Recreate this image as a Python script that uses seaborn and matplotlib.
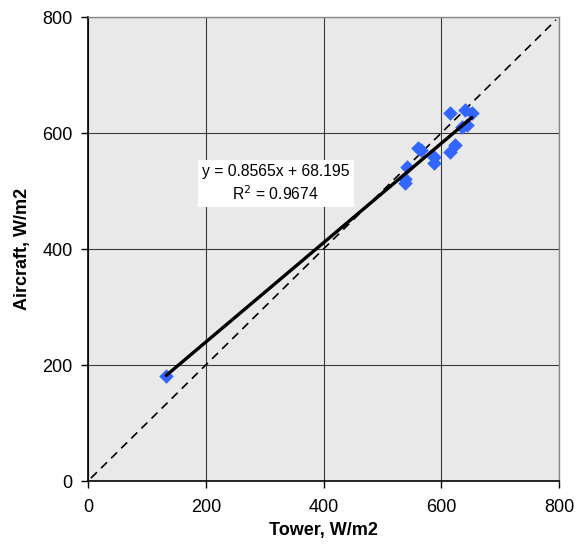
import matplotlib
matplotlib.use('Agg')
import numpy as np
import pandas as pd
from matplotlib import pyplot as plt
import seaborn as sns

# tower vs aircraft radiation, W/m2
tower = [133, 615, 640, 652, 635, 643, 623, 615, 561, 566, 587, 587, 541, 538, 538]
aircraft = [181, 634, 640, 634, 611, 614, 579, 568, 575, 571, 559, 548, 542, 513, 520]
slope = 0.8565
intercept = 68.195
r2 = 0.9674
ticks = [0, 200, 400, 600, 800]

df = pd.DataFrame({'tower': tower, 'aircraft': aircraft})

sns.set_style('white')
plt.rcParams['font.family'] = ['Liberation Sans', 'DejaVu Sans']
plt.rcParams['text.color'] = 'black'
plt.rcParams['axes.labelcolor'] = 'black'
plt.rcParams['xtick.color'] = 'black'
plt.rcParams['ytick.color'] = 'black'

fig = plt.figure(figsize=(5.77, 5.44), dpi=100)
ax = fig.add_axes([88 / 577, 1 - 481 / 544, 471 / 577, 464 / 544])
ax.set_facecolor('#e9e9e9')

# 1:1 line
ax.plot([5, 795], [5, 795], color='black', linestyle='--', linewidth=1.2, dashes=(5, 3.5), zorder=2)

sns.scatterplot(ax=ax, x='tower', y='aircraft', data=df, marker='D', s=55,
                color='#3366ff', edgecolor='#3366ff', linewidth=0, zorder=3)

# trend line
xs = np.array([min(tower), max(tower)])
ax.plot(xs, slope * xs + intercept, color='black', linewidth=2.4, zorder=4)

ax.text(319, 513, 'y = %.4fx + %.3f\nR$^2$ = %.4f' % (slope, intercept, r2),
        ha='center', va='center', fontsize=11.3, linespacing=1.35, zorder=5,
        bbox=dict(facecolor='white', edgecolor='none', pad=3))

ax.set_xlim(0, 800)
ax.set_ylim(0, 800)
ax.set_xticks(ticks)
ax.set_yticks(ticks)
ax.grid(True, color='#3a3a3a', linewidth=0.8)
ax.set_axisbelow(True)
ax.tick_params(axis='both', direction='out', length=5, width=1,
               labelsize=13, left=True, bottom=True)
ax.tick_params(axis='x', pad=8)
ax.tick_params(axis='y', pad=6)
for side in ['top', 'right']:
    ax.spines[side].set_color('#888888')
    ax.spines[side].set_linewidth(1)
for side in ['left', 'bottom']:
    ax.spines[side].set_color('black')
    ax.spines[side].set_linewidth(1.2)

ax.set_xlabel('Tower, W/m2', fontsize=13, fontweight='bold', labelpad=4)
ax.set_ylabel('Aircraft, W/m2', fontsize=13, fontweight='bold', labelpad=8)

plt.savefig('out.png', dpi=100)
plt.close()
